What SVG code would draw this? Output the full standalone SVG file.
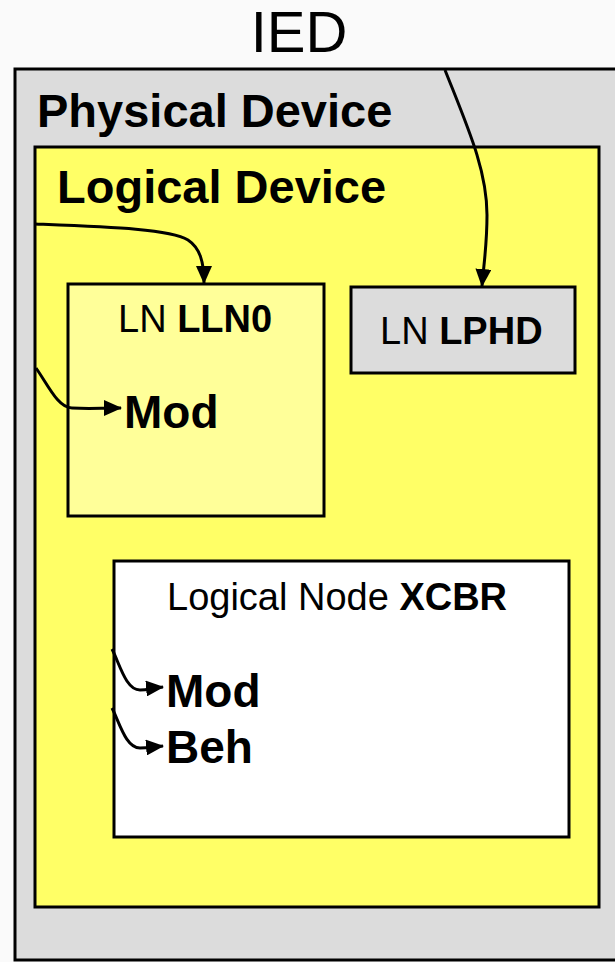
<svg xmlns="http://www.w3.org/2000/svg" width="615" height="962" viewBox="0 0 615 962">
  <style>
    .box { stroke: #000; stroke-width: 3; }
    .t { font-family: "Liberation Sans", Arial, sans-serif; fill: #000; }
    .b { font-weight: bold; }
    .wire { fill: none; stroke: #000; stroke-width: 3; }
  </style>
  <defs>
    <marker id="arrow" markerUnits="userSpaceOnUse" markerWidth="18" markerHeight="16" viewBox="0 0 18 16" refX="17" refY="8" orient="auto">
      <path d="M0,0 L18,8 L0,16 Z" fill="#000"/>
    </marker>
  </defs>

  <rect x="0" y="0" width="615" height="962" fill="#fafafa"/>

  <!-- IED title -->
  <text class="t" x="299" y="52" font-size="58" text-anchor="middle">IED</text>

  <g id="physical-device">
    <rect class="box" x="15" y="69" width="610" height="891" fill="#dcdcdc"/>
    <text class="t b" x="37" y="127" font-size="47">Physical Device</text>
  </g>

  <g id="logical-device">
    <rect class="box" x="35" y="147" width="564" height="760" fill="#ffff66"/>
    <text class="t b" x="57" y="203" font-size="47">Logical Device</text>
  </g>

  <g id="ln-lln0">
    <rect class="box" x="68" y="284" width="256" height="232" fill="#ffff99"/>
    <text class="t" x="118" y="332" font-size="38">LN <tspan class="b">LLN0</tspan></text>
    <text class="t b" x="124" y="428" font-size="46">Mod</text>
  </g>

  <g id="ln-lphd">
    <rect class="box" x="351" y="287" width="224" height="86" fill="#dcdcdc"/>
    <text class="t" x="380" y="344" font-size="38">LN <tspan class="b">LPHD</tspan></text>
  </g>

  <g id="ln-xcbr">
    <rect class="box" x="114" y="561" width="455" height="276" fill="#ffffff"/>
    <text class="t" x="167" y="610" font-size="38">Logical Node <tspan class="b">XCBR</tspan></text>
    <text class="t b" x="166" y="707" font-size="46">Mod</text>
    <text class="t b" x="166" y="763" font-size="46">Beh</text>
  </g>

  <g id="connectors">
    <path class="wire" marker-end="url(#arrow)" d="M445,70 C468,128 487,170 487,215 C487,245 484,262 482,286"/>
    <path class="wire" marker-end="url(#arrow)" d="M35,224 C110,227 170,229 188,240 C200,248 204,262 204,283"/>
    <path class="wire" marker-end="url(#arrow)" d="M36,368 C48,385 58,408 72,408 C90,409 100,408 121,408"/>
    <path class="wire" marker-end="url(#arrow)" d="M112,649 C120,665 126,690 140,690 C148,690 152,688 163,687"/>
    <path class="wire" marker-end="url(#arrow)" d="M112,708 C120,724 126,748 140,748 C148,748 152,747 163,746"/>
  </g>
</svg>
